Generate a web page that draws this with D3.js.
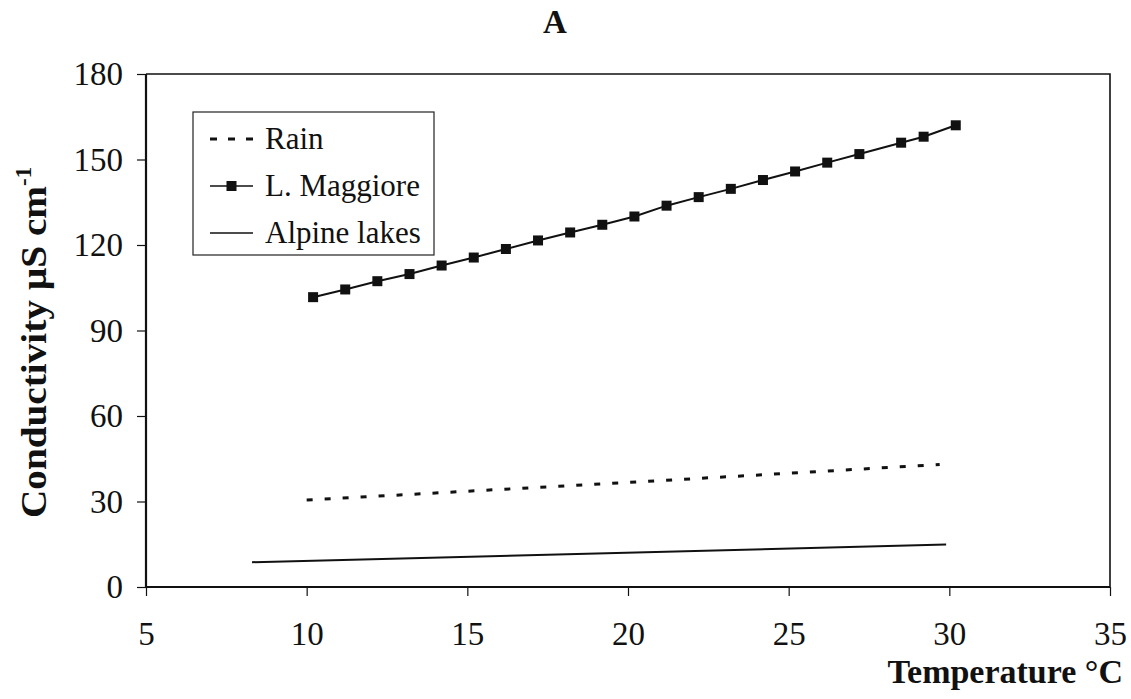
<!DOCTYPE html>
<html>
<head>
<meta charset="utf-8">
<script src="https://cdn.jsdelivr.net/npm/d3@7"></script>
<style>
  body { margin: 0; background: #fff; }
  text { font-family: "Liberation Serif", "Times New Roman", Tinos, "DejaVu Serif", serif; fill: #111; }
</style>
</head>
<body>
<svg id="chart" width="1131" height="699"></svg>
<script>
// data
const xTicks = [5, 10, 15, 20, 25, 30, 35];
const yTicks = [0, 30, 60, 90, 120, 150, 180];

const rainX = [10, 15, 20, 25, 29.7];
const rainY = [30.5, 33.6, 36.7, 39.9, 43.0];

const maggioreX = [10.2, 11.2, 12.2, 13.2, 14.2, 15.2, 16.2, 17.2, 18.2, 19.2, 20.2,
                   21.2, 22.2, 23.2, 24.2, 25.2, 26.2, 27.2, 28.5, 29.2, 30.2];
const maggioreY = [101.7, 104.4, 107.3, 109.8, 112.8, 115.6, 118.6, 121.6, 124.4, 127.1, 130,
                   133.8, 136.8, 139.7, 142.8, 145.8, 148.9, 151.9, 155.9, 158, 162];

const alpineX = [8.3, 29.9];
const alpineY = [8.7, 14.9];

const serif = "'Liberation Serif', 'Times New Roman', Tinos, 'DejaVu Serif', serif";

const margin = { top: 74, right: 21, bottom: 112, left: 146 },
      width = 1131 - margin.left - margin.right,
      height = 699 - margin.top - margin.bottom;

const svg = d3.select("#chart");
const g = svg.append("g").attr("transform", `translate(${margin.left},${margin.top})`);

const x = d3.scaleLinear().domain([5, 35]).range([0, width]);
const y = d3.scaleLinear().domain([0, 180]).range([height, 0]);

// frame (top + right)
g.append("path")
    .attr("d", `M0,0H${width}V${height}`)
    .attr("fill", "none")
    .attr("stroke", "#111")
    .attr("stroke-width", 1.6);

// axes
const xAxis = g.append("g")
    .attr("transform", `translate(0,${height})`)
    .call(d3.axisBottom(x).tickValues(xTicks).tickSize(9).tickPadding(26));
const yAxis = g.append("g")
    .call(d3.axisLeft(y).tickValues(yTicks).tickSize(9).tickPadding(14));

[xAxis, yAxis].forEach(a => {
    a.attr("font-family", serif);
    a.select(".domain").attr("stroke", "#111").attr("stroke-width", 2.2);
    a.selectAll(".tick line").attr("stroke", "#111").attr("stroke-width", 1.2);
    a.selectAll("text")
        .attr("font-size", 33)
        .attr("fill", "#111");
});
xAxis.select(".domain").attr("d", `M0,0H${width}`);
yAxis.select(".domain").attr("d", `M0,${height}V0`);

const line = d3.line().x(d => x(d[0])).y(d => y(d[1]));

// Rain
g.append("path")
    .datum(d3.zip(rainX, rainY))
    .attr("d", line)
    .attr("fill", "none")
    .attr("stroke", "#111")
    .attr("stroke-width", 3)
    .attr("stroke-dasharray", "6,12");

// Alpine lakes
g.append("path")
    .datum(d3.zip(alpineX, alpineY))
    .attr("d", line)
    .attr("fill", "none")
    .attr("stroke", "#111")
    .attr("stroke-width", 2);

// L. Maggiore
const mag = d3.zip(maggioreX, maggioreY);
g.append("path")
    .datum(mag)
    .attr("d", line)
    .attr("fill", "none")
    .attr("stroke", "#111")
    .attr("stroke-width", 2);
g.selectAll(".mk")
    .data(mag)
    .enter().append("rect")
    .attr("class", "mk")
    .attr("x", d => x(d[0]) - 5)
    .attr("y", d => y(d[1]) - 5)
    .attr("width", 10)
    .attr("height", 10)
    .attr("fill", "#111");

// title
svg.append("text")
    .attr("x", 555).attr("y", 33)
    .attr("text-anchor", "middle")
    .attr("font-weight", "bold")
    .attr("font-size", 33)
    .text("A");

// axis titles
svg.append("text")
    .attr("x", 1123).attr("y", 683)
    .attr("text-anchor", "end")
    .attr("font-weight", "bold")
    .attr("font-size", 34)
    .text("Temperature °C");

svg.append("text")
    .attr("transform", "translate(46,518) rotate(-90)")
    .attr("font-weight", "bold")
    .attr("font-size", 35)
    .attr("textLength", 332)
    .attr("lengthAdjust", "spacingAndGlyphs")
    .text("Conductivity µS cm");
svg.append("text")
    .attr("transform", "translate(31,186) rotate(-90)")
    .attr("font-weight", "bold")
    .attr("font-size", 23)
    .text("-1");

// legend
const legend = svg.append("g");
legend.append("rect")
    .attr("x", 193).attr("y", 112)
    .attr("width", 241).attr("height", 143)
    .attr("fill", "#fff")
    .attr("stroke", "#222")
    .attr("stroke-width", 1.2);

const legendItems = ["Rain", "L. Maggiore", "Alpine lakes"];
const rowY = [139, 186, 233];

legendItems.forEach((name, i) => {
    const ly = rowY[i];
    const sample = legend.append("line")
        .attr("x1", 210).attr("x2", 253)
        .attr("y1", ly).attr("y2", ly)
        .attr("stroke", "#111");
    if (i === 0) sample.attr("stroke-width", 3).attr("stroke-dasharray", "7,11");
    else sample.attr("stroke-width", 1.6);
    if (i === 1) {
        legend.append("rect")
            .attr("x", 226.5).attr("y", ly - 5)
            .attr("width", 10).attr("height", 10)
            .attr("fill", "#111");
    }
    legend.append("text")
        .attr("x", 265).attr("y", ly + 10)
        .attr("font-size", 31)
        .text(name);
});
</script>
</body>
</html>
